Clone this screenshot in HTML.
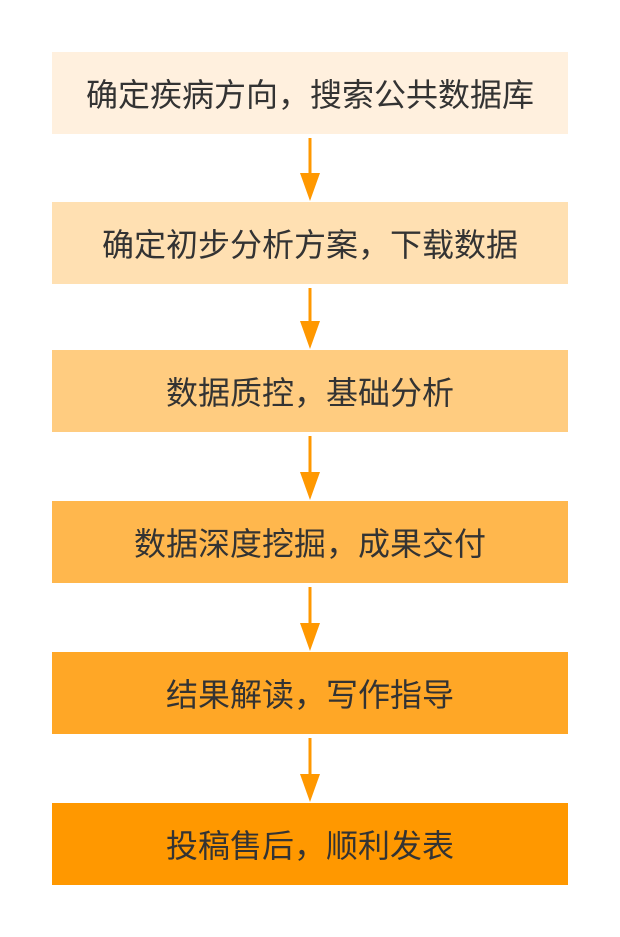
<!DOCTYPE html>
<html><head><meta charset="utf-8"><style>
body{margin:0;width:620px;height:937px;background:#fff;position:relative;font-family:"Liberation Sans","Noto Sans CJK SC",sans-serif;}
.b{position:absolute;left:52px;width:516px;height:82px;display:flex;align-items:center;justify-content:center;font-size:32px;color:#333;}
svg{position:absolute;left:0;top:0}
</style></head><body>
<div class="b" style="top:52px;background:#FFF0DE">确定疾病方向，搜索公共数据库</div>
<div class="b" style="top:202px;background:#FFE0B2">确定初步分析方案，下载数据</div>
<div class="b" style="top:350px;background:#FFCC80">数据质控，基础分析</div>
<div class="b" style="top:501px;background:#FFB74D">数据深度挖掘，成果交付</div>
<div class="b" style="top:652px;background:#FFA726">结果解读，写作指导</div>
<div class="b" style="top:803px;background:#FF9800">投稿售后，顺利发表</div>
<svg width="620" height="937">
<g fill="#FF9800" stroke="#FF9800">
<line x1="310" y1="138" x2="310" y2="175" stroke-width="3"/><polygon points="300,173 320,173 310,201" stroke="none"/>
<line x1="310" y1="288" x2="310" y2="323" stroke-width="3"/><polygon points="300,321 320,321 310,349" stroke="none"/>
<line x1="310" y1="436" x2="310" y2="474" stroke-width="3"/><polygon points="300,472 320,472 310,500" stroke="none"/>
<line x1="310" y1="587" x2="310" y2="625" stroke-width="3"/><polygon points="300,623 320,623 310,651" stroke="none"/>
<line x1="310" y1="738" x2="310" y2="776" stroke-width="3"/><polygon points="300,774 320,774 310,802" stroke="none"/>
</g></svg>
</body></html>
